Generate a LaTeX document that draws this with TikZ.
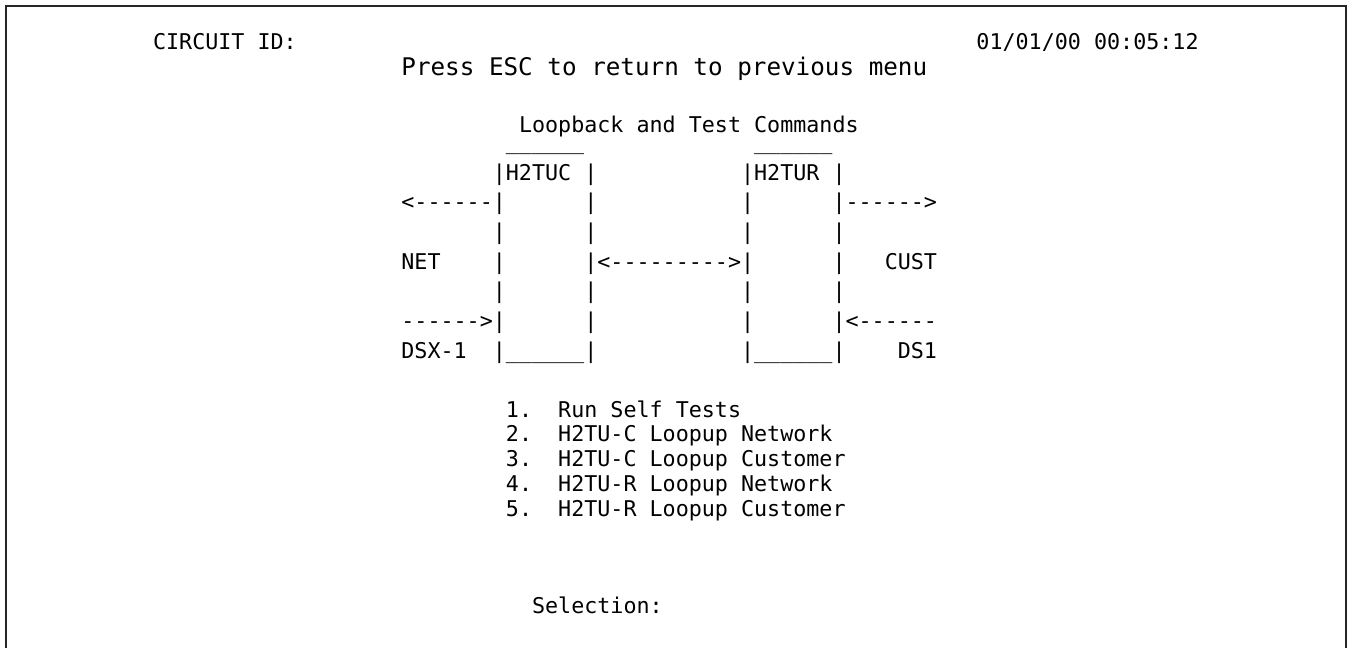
\documentclass[tikz,border=0pt]{standalone}
\usepackage{fontspec}
\setmonofont{DejaVu Sans Mono}
\newcommand\scrfont{\ttfamily\fontsize{10.85pt}{13pt}\selectfont}
\newcommand\bigscrfont{\ttfamily\fontsize{12.13pt}{15pt}\selectfont}
\newcommand\blank[1]{\hspace*{#1\fontdimen2\font}}
\newcommand\cx[1]{401+#1*13.07}

\begin{document}
\begin{tikzpicture}[x=0.5pt,y=-0.5pt,
        scr/.style={font=\scrfont,anchor=base west,inner sep=0pt},
        frame/.style={line width=1.15pt,draw=black!85}]
    \useasboundingbox (0,0) rectangle (1348,648);
    \draw[frame] (6,648) -- (6,6) -- (1346,6) -- (1346,648);
    % header
    \node[scr] (circuit) at (152.7,49) {CIRCUIT ID:};
    \node[scr] (clock) at ({\cx{44}},49) {01/01/00 00:05:12};
    \node[scr,font=\bigscrfont] (esc) at (401,75) {Press ESC to return to previous menu};
    \node[scr] (title) at ({\cx{9}},132) {Loopback and Test Commands};
    % loop diagram, one node per screen row
    \node[scr,text height=0pt] (rowA) at ({\cx{0}},149) {\blank{8}\_\_\_\_\_\_\blank{13}\_\_\_\_\_\_};
    \node[scr] (rowB) at ({\cx{0}},180) {\blank{7}|H2TUC\blank{1}|\blank{11}|H2TUR\blank{1}|};
    \node[scr] (rowC) at ({\cx{0}},209.7) {<------|\blank{6}|\blank{11}|\blank{6}|------>};
    \node[scr] (rowD) at ({\cx{0}},239.3) {\blank{7}|\blank{6}|\blank{11}|\blank{6}|};
    \node[scr] (rowE) at ({\cx{0}},269) {NET\blank{4}|\blank{6}|<--------->|\blank{6}|\blank{3}CUST};
    \node[scr] (rowF) at ({\cx{0}},298.7) {\blank{7}|\blank{6}|\blank{11}|\blank{6}|};
    \node[scr] (rowG) at ({\cx{0}},328.3) {------>|\blank{6}|\blank{11}|\blank{6}|<------};
    \node[scr] (rowH) at ({\cx{0}},358) {DSX-1\blank{2}|\_\_\_\_\_\_|\blank{11}|\_\_\_\_\_\_|\blank{4}DS1};
    % menu
    \node[scr] (item1) at ({\cx{8}},417) {1.\blank{2}Run Self Tests};
    \node[scr] (item2) at ({\cx{8}},441.75) {2.\blank{2}H2TU-C Loopup Network};
    \node[scr] (item3) at ({\cx{8}},466.5) {3.\blank{2}H2TU-C Loopup Customer};
    \node[scr] (item4) at ({\cx{8}},491.25) {4.\blank{2}H2TU-R Loopup Network};
    \node[scr] (item5) at ({\cx{8}},516) {5.\blank{2}H2TU-R Loopup Customer};
    \node[scr] (select) at ({\cx{10}},613) {Selection:};
\end{tikzpicture}
\end{document}
